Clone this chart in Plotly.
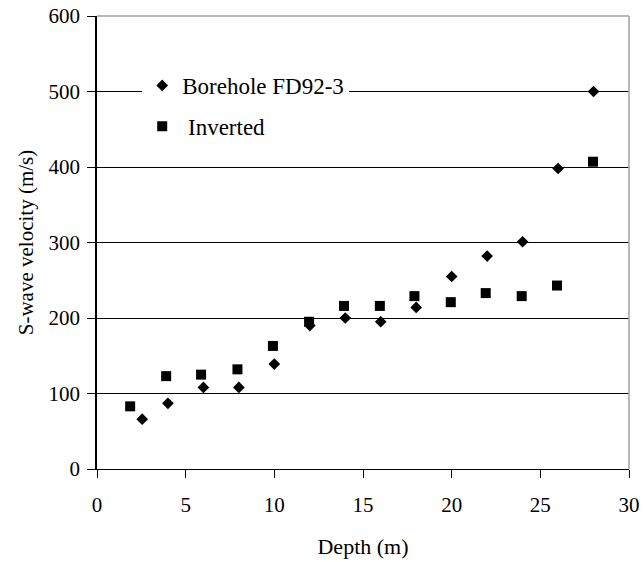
# S-wave velocity vs depth: borehole FD92-3 measurements against the inverted profile

import plotly.graph_objects as go


# borehole FD92-3 (diamonds)
borehole_depth = [2.55, 4, 6, 8, 10, 12, 14, 16, 18, 20, 22, 24, 26, 28]
borehole_vs = [66, 87, 108, 108, 139, 190, 200, 195, 214, 255, 282, 301, 398, 500]

# inverted profile (squares)
inverted_depth = [1.87, 3.9, 5.87, 7.92, 9.92, 11.96, 13.93, 15.95, 17.9, 19.95, 21.92, 23.95, 25.94, 27.97]
inverted_vs = [83, 123, 125, 132, 163, 195, 216, 216, 229, 221, 233, 229, 243, 407]

x_ticks = [0, 5, 10, 15, 20, 25, 30]
y_ticks = [0, 100, 200, 300, 400, 500, 600]

FONT = "Liberation Serif"


fig = go.Figure()

fig.add_trace(go.Scatter(
    x=borehole_depth, y=borehole_vs, mode='markers', name='Borehole FD92-3',
    legendgroup='a',
    marker=dict(symbol='diamond', size=9, color='black'),
))

fig.add_trace(go.Scatter(
    x=inverted_depth, y=inverted_vs, mode='markers', name='\u00a0Inverted',
    legendgroup='b',
    marker=dict(symbol='square', size=10, color='black'),
))

fig.update_layout(
    width=644,
    height=562,
    margin=dict(l=97, r=15, t=16, b=93, pad=0, autoexpand=False),
    paper_bgcolor='white',
    plot_bgcolor='white',
    font=dict(family=FONT, color='black', size=20),
    showlegend=True,
    legend=dict(
        x=0.085, y=0.894, xanchor='left', yanchor='top',
        bgcolor='white', borderwidth=0,
        font=dict(family=FONT, size=23, color='black'),
        tracegroupgap=8,
    ),
)

fig.update_xaxes(
    range=[0, 30], tickvals=x_ticks,
    showgrid=False, zeroline=False, automargin=False,
    showline=True, linecolor='black', linewidth=1,
    ticks='outside', ticklen=8, tickcolor='black', tickwidth=1,
    ticklabelstandoff=9, ticklabeloverflow='allow',
    tickfont=dict(family=FONT, size=21),
    title=dict(text='Depth (m)', font=dict(family=FONT, size=22), standoff=22),
)

fig.update_yaxes(
    range=[0, 600], tickvals=y_ticks,
    showgrid=True, gridcolor='black', gridwidth=1,
    zeroline=False, automargin=False,
    showline=True, linecolor='black', linewidth=1.5,
    ticks='outside', ticklen=8, tickcolor='black', tickwidth=1,
    ticklabelstandoff=3, ticklabeloverflow='allow',
    tickfont=dict(family=FONT, size=21),
    title=dict(text='S-wave velocity (m/s)', font=dict(family=FONT, size=21), standoff=9),
)

# grey frame on the top and right edges of the plot area
fig.add_shape(type='line', xref='paper', yref='paper', x0=0, x1=1, y0=1, y1=1,
              line=dict(color='#a0a0a0', width=1.5), layer='above')
fig.add_shape(type='line', xref='paper', yref='paper', x0=1, x1=1, y0=0, y1=1,
              line=dict(color='#a0a0a0', width=1.5), layer='above')

# drop the page's default 8px body margin so the figure fills the window
fig.write_html("out.html", config={'displayModeBar': False},
               post_script="document.body.style.margin = '0';")
